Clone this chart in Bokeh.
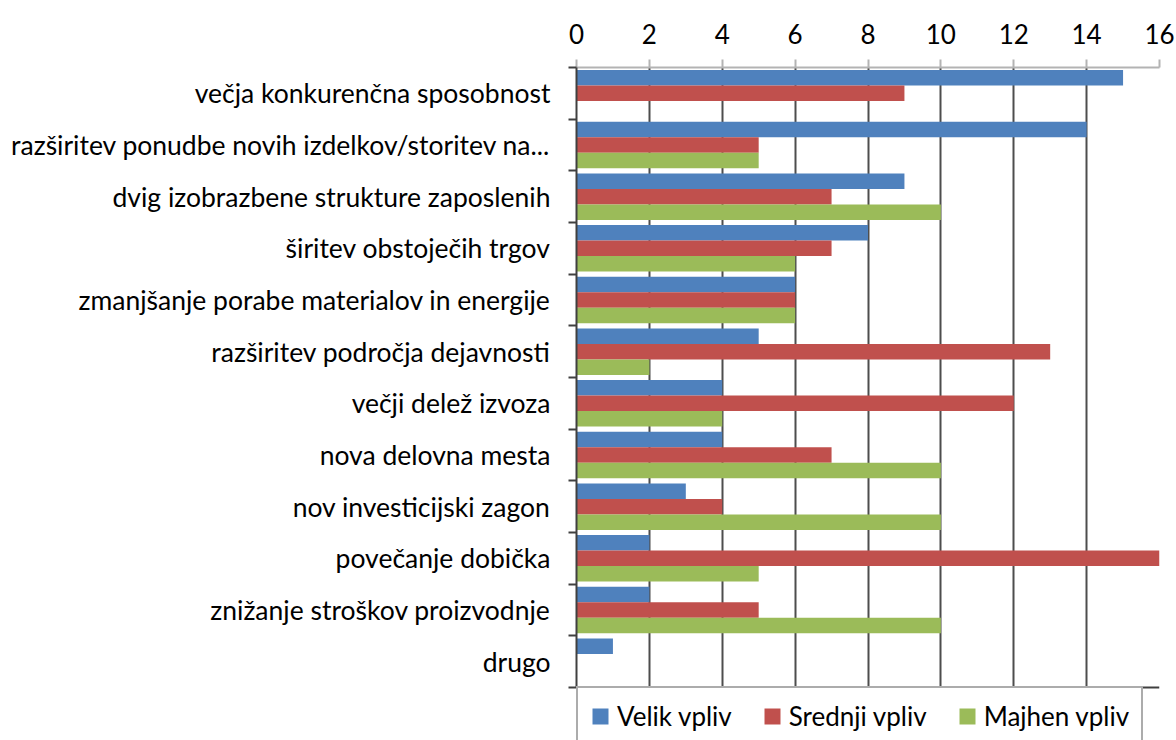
from bokeh.plotting import figure
from bokeh.models import ColumnDataSource, Range1d, FixedTicker, Legend, LegendItem, Span
from bokeh.transform import dodge
from bokeh.embed import file_html
from bokeh.resources import INLINE

categories = [
    "večja konkurenčna sposobnost",
    "razširitev ponudbe novih izdelkov/storitev na...",
    "dvig izobrazbene strukture zaposlenih",
    "širitev obstoječih trgov",
    "zmanjšanje porabe materialov in energije",
    "razširitev področja dejavnosti",
    "večji delež izvoza",
    "nova delovna mesta",
    "nov investicijski zagon",
    "povečanje dobička",
    "znižanje stroškov proizvodnje",
    "drugo",
]
velik = [15, 14, 9, 8, 6, 5, 4, 4, 3, 2, 2, 1]
srednji = [9, 5, 7, 7, 6, 13, 12, 7, 4, 16, 5, 0]
majhen = [0, 5, 10, 6, 6, 2, 4, 10, 10, 5, 10, 0]
series_names = ["Velik vpliv", "Srednji vpliv", "Majhen vpliv"]
colors = ["#4F81BD", "#C0504D", "#9BBB59"]
x_ticks = [0, 2, 4, 6, 8, 10, 12, 14, 16]

n = len(categories)
centers = [n - 0.5 - i for i in range(n)]
source = ColumnDataSource(dict(y=centers, velik=velik, srednji=srednji, majhen=majhen))

FONT = "Lato"
W, H = 1176, 740
LEFT, RIGHT, TOP = 576, 1159, 67
PLOT_BOTTOM = 687
band_px = (PLOT_BOTTOM - TOP) / n
y_start = n - (H - TOP) / band_px   # frame reaches canvas bottom; legend lives below y=0

p = figure(width=W, height=H, output_backend="svg", toolbar_location=None,
           x_range=Range1d(0, 16), y_range=Range1d(y_start, n),
           x_axis_location="above",
           min_border_left=LEFT, min_border_right=W - RIGHT, min_border_top=TOP, min_border_bottom=0)
p.outline_line_color = None
p.background_fill_color = "white"
p.border_fill_color = "white"

fields = ["velik", "srednji", "majhen"]
offsets = [0.3, 0.0, -0.3]
renderers = []
for f, off, c in zip(fields, offsets, colors):
    r = p.hbar(y=dodge("y", off, range=p.y_range), right=f, left=0, height=0.3,
               source=source, fill_color=c, line_color=None)
    renderers.append(r)

# x axis (top)
xa = p.xaxis[0]
xa.ticker = FixedTicker(ticks=x_ticks)
xa.axis_line_color = "#b3b3b3"
xa.axis_line_width = 2
xa.major_tick_line_color = "#b3b3b3"
xa.major_tick_line_width = 2
xa.major_tick_out = 8
xa.major_tick_in = 0
xa.minor_tick_line_color = None
xa.major_label_text_font = FONT
xa.major_label_text_font_size = "26px"
xa.major_label_text_color = "black"
xa.major_label_standoff = 16

# y axis (left)
ya = p.yaxis[0]
ya.bounds = (0, n)
ya.ticker = FixedTicker(ticks=centers, minor_ticks=list(range(n + 1)))
ya.major_label_overrides = {c: cat for c, cat in zip(centers, categories)}
ya.axis_line_color = "#404040"
ya.axis_line_width = 2
ya.major_tick_line_color = None
ya.minor_tick_line_color = "#404040"
ya.minor_tick_line_width = 2
ya.minor_tick_out = 8
ya.minor_tick_in = 0
ya.major_label_text_font = FONT
ya.major_label_text_font_size = "26.5px"
ya.major_label_text_color = "black"
ya.major_label_standoff = 18

p.xgrid.grid_line_color = "#4d4d4d"
p.xgrid.grid_line_width = 2
p.xgrid.cross_bounds = (0, n)
p.ygrid.grid_line_color = None

p.add_layout(Span(location=0, dimension="width", line_color="#404040", line_width=2))

legend = Legend(items=[LegendItem(label=nm, renderers=[r]) for nm, r in zip(series_names, renderers)],
                orientation="horizontal", location=(0, -6))
legend.label_text_font = FONT
legend.label_text_font_size = "26px"
legend.label_text_color = "black"
legend.glyph_width = 20
legend.glyph_height = 20
legend.label_standoff = 7
legend.spacing = 30
legend.padding = 12
legend.margin = 0
legend.border_line_color = "#595959"
legend.border_line_width = 2
legend.background_fill_alpha = 1
p.add_layout(legend, "center")

open("out.html", "w").write(file_html(p, INLINE))
